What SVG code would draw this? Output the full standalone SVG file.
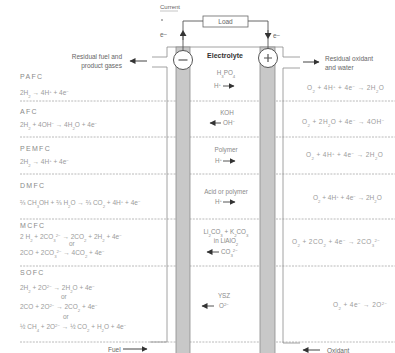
<svg xmlns="http://www.w3.org/2000/svg" width="395" height="353" viewBox="0 0 395 353">
<style>
text{font-family:"Liberation Sans",Arial,sans-serif;}
.eq{font-size:6.5px;fill:#9a9a9a;}
.lbl{font-size:7px;fill:#8a8a8a;letter-spacing:1.3px;}
.mid{font-size:6.3px;fill:#8a8a8a;text-anchor:middle;}
.mi{font-size:6.3px;fill:#8a8a8a;}
.cap{font-size:6.5px;fill:#666;}
.s{font-size:4.3px;}
.dash{stroke:#a8a8a8;stroke-width:0.8;stroke-dasharray:2 1.2;fill:none;}
.wall{stroke:#8a8a8a;stroke-width:0.8;fill:none;}
.wire{stroke:#555;stroke-width:0.9;fill:none;}
.strip{fill:#c8c8c8;stroke:#8c8c8c;stroke-width:0.8;}
.flow{stroke:#444;stroke-width:1;fill:none;}
.ion{stroke:#555;stroke-width:1;fill:none;}
</style>
<defs>
<marker id="ah" markerWidth="7" markerHeight="7" refX="5.5" refY="3.5" orient="auto" markerUnits="userSpaceOnUse"><path d="M0,0.5 L6,3.5 L0,6.5 Z" fill="#333"/></marker>
<marker id="ahm" markerWidth="7" markerHeight="7" refX="3" refY="3.5" orient="auto" markerUnits="userSpaceOnUse"><path d="M0,0 L6,3.5 L0,7 Z" fill="#333"/></marker>
</defs>
<rect width="395" height="353" fill="#fff"/>

<g id="separators">
<path class="dash" d="M20,101H395M20,137H395M20,174H395M20,219H395M20,266H395M20,342H395"/>
</g>

<g id="cell">
<path class="wall" d="M167,57V47H283V57M167,67V342H150M283,68V343H300M152,57H167M152,67H167M283,57H300M283,68H300"/>
<rect class="strip" x="176" y="47" width="14" height="307"/>
<rect class="strip" x="260" y="47" width="15" height="307"/>
<circle cx="183" cy="60" r="9.5" fill="#fff" stroke="#555" stroke-width="1"/>
<circle cx="268" cy="58" r="9.5" fill="#fff" stroke="#555" stroke-width="1"/>
<path d="M178.5,60H187.5" stroke="#555" stroke-width="1.2"/>
<path d="M264,58H272M268,54V62" stroke="#555" stroke-width="1.2"/>
<text x="225" y="58" text-anchor="middle" font-size="7" font-weight="bold" fill="#333">Electrolyte</text>
</g>

<g id="load">
<rect x="203" y="16" width="45" height="11" fill="#fff" stroke="#666" stroke-width="0.8"/>
<text x="225.5" y="24" text-anchor="middle" class="cap">Load</text>
<text x="160" y="9" font-size="6" fill="#666">Current</text>
<path d="M160,11H178" stroke="#888" stroke-width="0.5"/>
<circle cx="162" cy="20" r="0.8" fill="#555"/>
<text x="160" y="37" class="cap">e−</text>
<text x="273" y="38" class="cap">e−</text>
</g>

<g id="connectors">
<path class="wire" d="M183,50.5V21H203"/>
<path class="wire" d="M183,40V33" marker-end="url(#ahm)"/>
<path class="wire" d="M248,21H268V48.5"/>
<path class="wire" d="M268,30V36" marker-end="url(#ahm)"/>
<path class="flow" d="M147,61H130" marker-end="url(#ah)"/>
<path class="flow" d="M303,62H319" marker-end="url(#ah)"/>
<path class="flow" d="M123,349H147" marker-end="url(#ah)"/>
<path class="flow" d="M320,350H303" marker-end="url(#ah)"/>
</g>

<g id="io-labels">
<text x="122" y="59" text-anchor="end" class="cap">Residual fuel and</text>
<text x="122" y="68" text-anchor="end" class="cap">product gases</text>
<text x="325" y="61" class="cap">Residual oxidant</text>
<text x="325" y="70" class="cap">and water</text>
<text x="108" y="352" class="cap">Fuel</text>
<text x="327" y="353" class="cap">Oxidant</text>
</g>

<g id="pafc">
<text x="20" y="79" class="lbl">PAFC</text>
<text x="20" y="95" class="eq">2H<tspan class="s" baseline-shift="sub">2</tspan> → 4H<tspan class="s" baseline-shift="super">+</tspan>  +  4e<tspan class="s" baseline-shift="super">−</tspan></text>
<text x="226" y="75" class="mid">H<tspan class="s" baseline-shift="sub">3</tspan>PO<tspan class="s" baseline-shift="sub">4</tspan></text>
<text x="214" y="88" class="mi">H<tspan class="s" baseline-shift="super">+</tspan></text>
<path class="ion" d="M223,86H234" marker-end="url(#ah)"/>
<text x="307" y="90" class="eq" letter-spacing="0.4">O<tspan class="s" baseline-shift="sub">2</tspan> + 4H<tspan class="s" baseline-shift="super">+</tspan>  +  4e<tspan class="s" baseline-shift="super">−</tspan>  →  2H<tspan class="s" baseline-shift="sub">2</tspan>O</text>
</g>

<g id="afc">
<text x="20" y="114" class="lbl">AFC</text>
<text x="20" y="127" class="eq">2H<tspan class="s" baseline-shift="sub">2</tspan> + 4OH<tspan class="s" baseline-shift="super">−</tspan>  →  4H<tspan class="s" baseline-shift="sub">2</tspan>O  + 4e<tspan class="s" baseline-shift="super">−</tspan></text>
<text x="227" y="115" class="mid">KOH</text>
<path class="ion" d="M221,123H210" marker-end="url(#ah)"/>
<text x="223" y="125" class="mi">OH<tspan class="s" baseline-shift="super">−</tspan></text>
<text x="302" y="124" class="eq" letter-spacing="0.4">O<tspan class="s" baseline-shift="sub">2</tspan> + 2H<tspan class="s" baseline-shift="sub">2</tspan>O + 4e<tspan class="s" baseline-shift="super">−</tspan> → 4OH<tspan class="s" baseline-shift="super">−</tspan></text>
</g>

<g id="pemfc">
<text x="20" y="151" class="lbl">PEMFC</text>
<text x="20" y="164" class="eq">2H<tspan class="s" baseline-shift="sub">2</tspan> → 4H<tspan class="s" baseline-shift="super">+</tspan>  +  4e<tspan class="s" baseline-shift="super">−</tspan></text>
<text x="226" y="152" class="mid">Polymer</text>
<text x="215" y="163" class="mi">H<tspan class="s" baseline-shift="super">+</tspan></text>
<path class="ion" d="M223,161H235" marker-end="url(#ah)"/>
<text x="306" y="157" class="eq" letter-spacing="0.4">O<tspan class="s" baseline-shift="sub">2</tspan> + 4H<tspan class="s" baseline-shift="super">+</tspan>  +  4e<tspan class="s" baseline-shift="super">−</tspan>  →  2H<tspan class="s" baseline-shift="sub">2</tspan>O</text>
</g>

<g id="dmfc">
<text x="20" y="188" class="lbl">DMFC</text>
<text x="20" y="205" class="eq">⅔ CH<tspan class="s" baseline-shift="sub">3</tspan>OH + ⅔ H<tspan class="s" baseline-shift="sub">2</tspan>O →  ⅔ CO<tspan class="s" baseline-shift="sub">2</tspan> + 4H<tspan class="s" baseline-shift="super">+</tspan> + 4e<tspan class="s" baseline-shift="super">−</tspan></text>
<text x="226" y="194" class="mid">Acid or polymer</text>
<text x="215" y="204" class="mi">H<tspan class="s" baseline-shift="super">+</tspan></text>
<path class="ion" d="M223,202H235" marker-end="url(#ah)"/>
<text x="313" y="200" class="eq">O<tspan class="s" baseline-shift="sub">2</tspan> + 4H<tspan class="s" baseline-shift="super">+</tspan> + 4e<tspan class="s" baseline-shift="super">−</tspan> → 2H<tspan class="s" baseline-shift="sub">2</tspan>O</text>
</g>

<g id="mcfc">
<text x="20" y="228" class="lbl">MCFC</text>
<text x="20" y="239" class="eq">2 H<tspan class="s" baseline-shift="sub">2</tspan> + 2CO<tspan class="s" baseline-shift="sub">3</tspan><tspan class="s" baseline-shift="super">2−</tspan>  → 2CO<tspan class="s" baseline-shift="sub">2</tspan> + 2H<tspan class="s" baseline-shift="sub">2</tspan> + 4e<tspan class="s" baseline-shift="super">−</tspan></text>
<text x="69" y="246" class="eq">or</text>
<text x="20" y="255" class="eq">2CO + 2CO<tspan class="s" baseline-shift="sub">3</tspan><tspan class="s" baseline-shift="super">2−</tspan>  → 4CO<tspan class="s" baseline-shift="sub">2</tspan> + 4e<tspan class="s" baseline-shift="super">−</tspan></text>
<text x="226" y="234" class="mid">Li<tspan class="s" baseline-shift="sub">2</tspan>CO<tspan class="s" baseline-shift="sub">3</tspan> + K<tspan class="s" baseline-shift="sub">2</tspan>CO<tspan class="s" baseline-shift="sub">3</tspan></text>
<text x="226" y="243" class="mid">in LiAlO<tspan class="s" baseline-shift="sub">2</tspan></text>
<path class="ion" d="M219,252H207" marker-end="url(#ah)"/>
<text x="221" y="254" class="mi">CO<tspan class="s" baseline-shift="sub">3</tspan><tspan class="s" baseline-shift="super">2−</tspan></text>
<text x="292" y="244" class="eq" letter-spacing="0.4">O<tspan class="s" baseline-shift="sub">2</tspan> + 2CO<tspan class="s" baseline-shift="sub">2</tspan>  +  4e<tspan class="s" baseline-shift="super">−</tspan>  →  2CO<tspan class="s" baseline-shift="sub">3</tspan><tspan class="s" baseline-shift="super">2−</tspan></text>
</g>

<g id="sofc">
<text x="20" y="275" class="lbl">SOFC</text>
<text x="20" y="290" class="eq">2H<tspan class="s" baseline-shift="sub">2</tspan> + 2O<tspan class="s" baseline-shift="super">2−</tspan> → 2H<tspan class="s" baseline-shift="sub">2</tspan>O  +  4e<tspan class="s" baseline-shift="super">−</tspan></text>
<text x="61" y="299" class="eq">or</text>
<text x="20" y="309" class="eq">2CO + 2O<tspan class="s" baseline-shift="super">2−</tspan> → 2CO<tspan class="s" baseline-shift="sub">2</tspan> + 4e<tspan class="s" baseline-shift="super">−</tspan></text>
<text x="63" y="319" class="eq">or</text>
<text x="20" y="329" class="eq">½ CH<tspan class="s" baseline-shift="sub">4</tspan> + 2O<tspan class="s" baseline-shift="super">2−</tspan> → ½ CO<tspan class="s" baseline-shift="sub">2</tspan> + H<tspan class="s" baseline-shift="sub">2</tspan>O + 4e<tspan class="s" baseline-shift="super">−</tspan></text>
<text x="224" y="298" class="mid">YSZ</text>
<path class="ion" d="M214,306H202" marker-end="url(#ah)"/>
<text x="219" y="308" class="mi">O<tspan class="s" baseline-shift="super">2−</tspan></text>
<text x="333" y="307" class="eq" letter-spacing="0.4">O<tspan class="s" baseline-shift="sub">2</tspan> + 4e<tspan class="s" baseline-shift="super">−</tspan>  →  2O<tspan class="s" baseline-shift="super">2−</tspan></text>
</g>
</svg>
